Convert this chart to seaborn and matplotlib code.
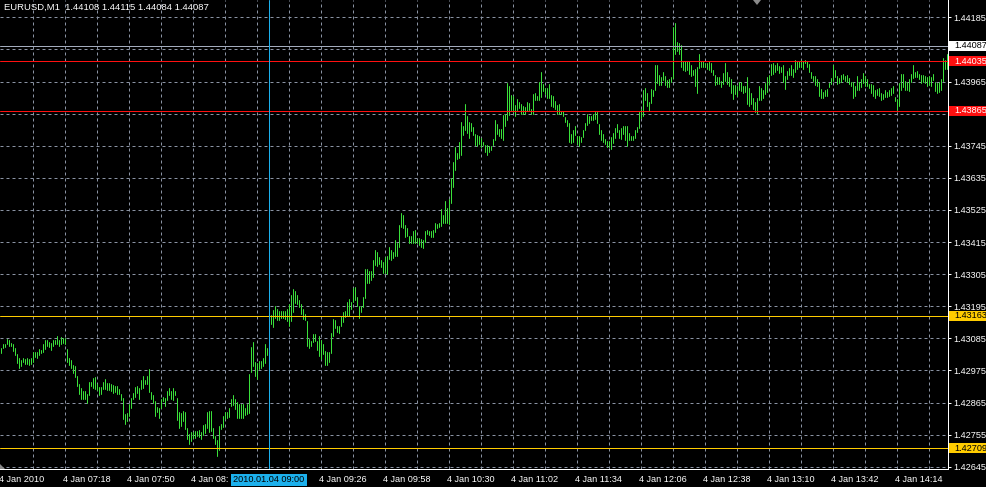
import numpy as np
import pandas as pd
import matplotlib
matplotlib.use("Agg")
import matplotlib.pyplot as plt
import matplotlib.transforms as mtransforms
from matplotlib.patches import Rectangle, Polygon
import seaborn as sns

# ---------------- data ----------------
TITLE = "EURUSD,M1  1.44108 1.44115 1.44084 1.44087"
BASE = 1.42          # prices below are stored as points (1e-5) above this base
FIRST_TIME = "06:46"  # time of the first (left-most) one-minute bar

HIGH_PTS = [
    1053, 1064, 1067, 1083, 1078, 1069, 1064, 1051, 1032, 1016,
    1010, 1016, 1014, 1016, 1014, 1016, 1037, 1037, 1037, 1048,
    1046, 1064, 1078, 1080, 1074, 1069, 1078, 1080, 1094, 1080,
    1090, 1087, 1085, 1048, 1019, 1010, 994, 991, 957, 930,
    914, 905, 905, 893, 936, 936, 950, 952, 927, 918,
    918, 934, 946, 932, 932, 927, 925, 923, 921, 911,
    893, 882, 825, 829, 861, 879, 898, 918, 921, 916,
    941, 955, 943, 955, 980, 900, 891, 870, 850, 847,
    877, 884, 882, 905, 916, 905, 916, 905, 879, 831,
    829, 836, 834, 779, 758, 765, 765, 767, 767, 770,
    763, 788, 790, 834, 836, 836, 779, 749, 738, 786,
    793, 820, 831, 834, 847, 877, 889, 877, 868, 861,
    859, 861, 847, 861, 962,
    1055, 1071, 1003, 1000, 1008, 1008, 1017, 1065, 1053, 1140,
    1165, 1181, 1197, 1185, 1178, 1178, 1178, 1178, 1185, 1201,
    1233, 1254, 1247, 1235, 1217, 1201, 1187, 1169, 1144, 1083,
    1076, 1099, 1099, 1076, 1094, 1078, 1065, 1042, 1039, 1037,
    1103, 1151, 1149, 1128, 1126, 1162, 1174, 1178, 1208, 1219,
    1208, 1258, 1260, 1226, 1197, 1197, 1226, 1324, 1322, 1317,
    1315, 1354, 1386, 1381, 1363, 1354, 1345, 1365, 1367, 1397,
    1388, 1381, 1422, 1411, 1472, 1513, 1509, 1474, 1463, 1436,
    1436, 1452, 1456, 1429, 1429, 1424, 1422, 1452, 1456, 1452,
    1452, 1456, 1481, 1477, 1479, 1527, 1506, 1554, 1531, 1561,
    1634, 1688, 1739, 1720, 1757, 1827, 1811, 1889, 1846, 1827,
    1823, 1809, 1784, 1780, 1777, 1770, 1759, 1748, 1748, 1743,
    1745, 1768, 1834, 1818, 1802, 1802, 1850, 1853, 1960, 1951,
    1919, 1915, 1885, 1905, 1896, 1887, 1880, 1878, 1896, 1892,
    1871, 1921, 1926, 1917, 1965, 1999, 1958, 1942, 1942, 1958,
    1919, 1915, 1898, 1885, 1887, 1864, 1864, 1843, 1832, 1823,
    1786, 1800, 1814, 1777, 1777, 1775, 1798, 1823, 1855, 1846,
    1848, 1853, 1862, 1860, 1818, 1798, 1784, 1768, 1761, 1761,
    1775, 1789, 1805, 1818, 1800, 1805, 1814, 1814, 1814, 1789,
    1777, 1777, 1798, 1809, 1860, 1871, 1937, 1942, 1926, 1894,
    1940, 1937, 2022, 2022, 1986, 1981, 1997, 1983, 1970, 1972,
    1981, 2151, 2167, 2100, 2096, 2089, 2036, 2036, 2036, 2036,
    2020, 2006, 2009, 2013, 2059, 2036, 2036, 2029, 2029, 2036,
    2029, 2006, 1986, 1979, 1981,
    1967, 1995, 2027, 1999, 1981, 1972, 1954, 1954, 1951, 1965,
    1965, 1949, 1949, 1979, 1944, 1926, 1910, 1896, 1908, 1949,
    1942, 1937, 1960, 1979, 1988, 2025, 2027, 2020, 2027, 2018,
    2013, 2020, 1983, 2002, 2011, 2022, 2009, 2038, 2036, 2036,
    2038, 2036, 2038, 2034, 2025, 1997, 1983, 1983, 1972, 1963,
    1940, 1928, 1937, 1940, 1960, 1976, 2020, 2004, 1983, 1976,
    1986, 1992, 1983, 1986, 1976, 1965, 1963, 1949, 1983, 1965,
    1974, 1995, 1983, 1972, 1956, 1956, 1954, 1937, 1940, 1942,
    1926, 1921, 1937, 1928, 1937, 1942, 1949, 1912, 1905, 1960,
    1990, 1990, 1967, 1963, 1972, 1990, 2022, 1999, 2002, 1990,
    1986, 1986, 1983, 1981, 1983, 1981, 1990, 1963, 1960, 1965,
    1972, 2045, 2038, 2059,
]

LOW_PTS = [
    1035, 1053, 1055, 1064, 1060, 1058, 1042, 1028, 1000, 982,
    991, 1003, 996, 996, 994, 998, 1005, 1021, 1016, 1028,
    1035, 1039, 1048, 1060, 1055, 1046, 1058, 1064, 1064, 1060,
    1067, 1069, 1067, 1005, 994, 982, 966, 952, 921, 895,
    877, 877, 877, 863, 889, 923, 916, 911, 909, 889,
    893, 911, 911, 907, 907, 905, 898, 902, 893, 893,
    875, 809, 790, 802, 820, 845, 877, 884, 898, 877,
    911, 914, 927, 927, 902, 877, 863, 820, 834, 811,
    845, 870, 854, 873, 891, 877, 873, 889, 804, 779,
    786, 802, 774, 740, 724, 733, 745, 745, 751, 747,
    740, 754, 761, 779, 763, 767, 742, 724, 683, 701,
    774, 781, 809, 811, 815, 854, 857, 843, 811, 811,
    811, 813, 822, 827, 830,
    969, 989, 957, 946, 980, 983, 989, 1001, 1028, 1040,
    1133, 1124, 1153, 1147, 1147, 1153, 1153, 1151, 1144, 1128,
    1144, 1174, 1206, 1201, 1192, 1167, 1151, 1149, 1058, 1053,
    1060, 1071, 1076, 1046, 1024, 1014, 1030, 994, 994, 1005,
    1035, 1092, 1121, 1105, 1103, 1126, 1140, 1158, 1162, 1162,
    1185, 1210, 1217, 1194, 1156, 1174, 1192, 1224, 1274, 1274,
    1285, 1295, 1336, 1333, 1340, 1329, 1310, 1310, 1304, 1356,
    1354, 1360, 1367, 1367, 1399, 1465, 1463, 1433, 1436, 1413,
    1413, 1413, 1413, 1413, 1406, 1399, 1395, 1415, 1442, 1440,
    1433, 1433, 1449, 1463, 1468, 1470, 1481, 1481, 1479, 1477,
    1547, 1604, 1661, 1698, 1704, 1714, 1782, 1800, 1789, 1770,
    1795, 1782, 1748, 1745, 1752, 1739, 1748, 1725, 1714, 1725,
    1731, 1747, 1763, 1786, 1777, 1772, 1763, 1814, 1834, 1850,
    1869, 1862, 1846, 1866, 1873, 1855, 1855, 1855, 1864, 1866,
    1853, 1853, 1903, 1903, 1903, 1912, 1931, 1921, 1908, 1910,
    1882, 1876, 1871, 1855, 1855, 1853, 1846, 1825, 1814, 1756,
    1754, 1759, 1782, 1752, 1745, 1756, 1775, 1798, 1816, 1823,
    1832, 1834, 1837, 1823, 1784, 1766, 1756, 1750, 1740, 1740,
    1734, 1754, 1772, 1791, 1770, 1768, 1786, 1763, 1745, 1763,
    1763, 1763, 1772, 1793, 1805, 1841, 1848, 1903, 1882, 1864,
    1892, 1915, 1937, 1960, 1954, 1954, 1970, 1954, 1947, 1947,
    1963, 1976, 2059, 2070, 2059, 2013, 2006, 2002, 2004, 1990,
    1983, 1986, 1949, 1926, 2011, 2015, 2015, 2013, 2009, 2006,
    1999, 1988, 1954, 1956, 1958,
    1947, 1956, 1967, 1958, 1949, 1926, 1905, 1921, 1915, 1935,
    1933, 1926, 1928, 1887, 1880, 1887, 1871, 1862, 1857, 1903,
    1903, 1908, 1921, 1928, 1956, 1986, 1992, 1999, 2004, 1995,
    1999, 1963, 1940, 1974, 1986, 1986, 1979, 1997, 2009, 2013,
    2013, 2009, 2027, 2013, 1997, 1976, 1967, 1954, 1949, 1917,
    1910, 1910, 1915, 1917, 1947, 1956, 1967, 1981, 1956, 1960,
    1965, 1972, 1967, 1963, 1958, 1949, 1910, 1915, 1937, 1935,
    1947, 1960, 1949, 1951, 1944, 1926, 1915, 1910, 1919, 1915,
    1903, 1905, 1912, 1912, 1915, 1919, 1924, 1898, 1869, 1882,
    1937, 1947, 1935, 1937, 1931, 1965, 1976, 1979, 1979, 1974,
    1960, 1965, 1960, 1951, 1954, 1949, 1970, 1933, 1926, 1928,
    1937, 1967, 2009, 2009,
]

# time labels as visible in the reference (the 08:22 label is cut by the
# date box, the 08:54 one is fully hidden under it)
TIME_LABELS = ["4 Jan 2010", "4 Jan 07:18", "4 Jan 07:50", "4 Jan 08:",
               "", "4 Jan 09:26", "4 Jan 09:58", "4 Jan 10:30",
               "4 Jan 11:02", "4 Jan 11:34", "4 Jan 12:06", "4 Jan 12:38",
               "4 Jan 13:10", "4 Jan 13:42", "4 Jan 14:14"]
LABEL_EVERY = 32      # bars between time labels
GRID_EVERY = 16       # bars between vertical grid lines

PRICE_TICKS = [1.42645, 1.42755, 1.42865, 1.42975, 1.43085, 1.43195, 1.43305,
               1.43415, 1.43525, 1.43635, 1.43745, 1.43855, 1.43965, 1.44075,
               1.44185]
# tick labels that the reference hides behind the level boxes
HIDDEN_PRICE_LABELS = [1.43855, 1.44075]

LEVEL_PRICES = [1.44087, 1.44035, 1.43865, 1.43163, 1.42709]
LEVEL_LINE_COLORS = ["#a3acbd", "#ff1010", "#ff1010", "#ffcc00", "#ffcc00"]
LEVEL_BOX_COLORS = ["#ffffff", "#ff1010", "#ff1010", "#ffcc00", "#ffcc00"]
LEVEL_TEXT_COLORS = ["black", "white", "white", "black", "black"]

CROSS_TIME = "09:00"
CROSS_LABEL = "2010.01.04 09:00"

# ---------------- style ----------------
W, H, DPI = 986, 487, 100
BAR_COLOR = "#3ae03a"
GRID_COLOR = "#8a93a3"
CROSS_COLOR = "#1cb0ec"
PX = 72.0 / DPI   # one pixel in points

sns.set_style("dark", {"axes.facecolor": "black", "figure.facecolor": "black"})
plt.rcParams["font.family"] = ["Liberation Sans", "DejaVu Sans"]

fig = plt.figure(figsize=(W / DPI, H / DPI), dpi=DPI, facecolor="black")
AX_R, AX_B = 948, 469   # pixel right edge and bottom edge of the plot area
ax = fig.add_axes([0, (H - AX_B) / H, AX_R / W, AX_B / H])
ax.set_facecolor("black")

n = len(HIGH_PTS)
bars = np.arange(n)
high = BASE + np.array(HIGH_PTS) / 1e5
low = BASE + np.array(LOW_PTS) / 1e5
df = pd.DataFrame({"bar": np.repeat(bars, 2),
                   "price": np.column_stack([low, high]).ravel()})

sns.lineplot(data=df, x="bar", y="price", units="bar", estimator=None,
             color=BAR_COLOR, linewidth=PX, ax=ax, legend=False, zorder=3)

# scales
ax.set_xlim(-0.75, n - 0.75)
ppx = 0.0011 / 32.1      # price per pixel
y_top = 1.44185 + 17.3 * ppx
ax.set_ylim(y_top - AX_B * ppx, y_top)
ax.set_xlabel("")
ax.set_ylabel("")

# grid
ax.set_axisbelow(True)
ax.set_yticks(PRICE_TICKS)
ax.set_yticklabels(["" if any(abs(p - h) < 1e-9 for h in HIDDEN_PRICE_LABELS)
                    else f"{p:.5f}" for p in PRICE_TICKS])
ax.xaxis.remove_overlapping_locs = False
ax.set_xticks(list(range(0, LABEL_EVERY * len(TIME_LABELS), LABEL_EVERY)))
ax.set_xticklabels(TIME_LABELS, ha="left")
ax.set_xticks(list(range(GRID_EVERY, n, GRID_EVERY)), minor=True)
dash = (0, (3, 3))
ax.grid(axis="y", which="major", color=GRID_COLOR, linewidth=PX, linestyle=dash)
ax.grid(axis="x", which="minor", color=GRID_COLOR, linewidth=PX, linestyle=dash)
ax.grid(axis="x", which="major", visible=False)

ax.tick_params(axis="y", which="major", left=False, right=True, labelleft=False,
               labelright=True, length=3 * PX, width=PX, color="white",
               labelcolor="white", labelsize=6.6, pad=2.5 * PX)
ax.tick_params(axis="x", which="major", length=3 * PX, width=PX, color="white",
               labelcolor="white", labelsize=6.6, pad=3 * PX)
ax.tick_params(axis="x", which="minor", length=0)
shift = mtransforms.ScaledTranslation(-2 / DPI, 0, fig.dpi_scale_trans)
for lab in ax.get_xticklabels():
    lab.set_transform(lab.get_transform() + shift)

for side in ("top", "left"):
    ax.spines[side].set_visible(False)
for side in ("right", "bottom"):
    ax.spines[side].set_color("white")
    ax.spines[side].set_linewidth(PX)

# horizontal level lines with coloured price boxes
trans = mtransforms.blended_transform_factory(ax.transAxes, ax.transData)
half = 5 * ppx
for p, lc, bc, tc in zip(LEVEL_PRICES, LEVEL_LINE_COLORS, LEVEL_BOX_COLORS,
                         LEVEL_TEXT_COLORS):
    ax.axhline(p, color=lc, linewidth=PX, zorder=4)
    ax.add_patch(Rectangle((949 / AX_R, p - half), (W - 949) / AX_R, 2 * half,
                           transform=trans, facecolor=bc, edgecolor="none",
                           clip_on=False, zorder=6))
    ax.text(954 / AX_R, p, f"{p:.5f}", transform=trans, ha="left", va="center",
            color=tc, fontsize=6.6, clip_on=False, zorder=7)

# crosshair at 09:00
h0, m0 = map(int, FIRST_TIME.split(":"))
h1, m1 = map(int, CROSS_TIME.split(":"))
cross_bar = (h1 * 60 + m1) - (h0 * 60 + m0)
ax.axvline(cross_bar, color=CROSS_COLOR, linewidth=PX, zorder=5)


def fx(px):
    return px / W


def fy(py):
    return 1 - py / H


fig.add_artist(Rectangle((fx(231), fy(485.5)), fx(307) - fx(231), fy(473.5) - fy(485.5),
                         transform=fig.transFigure, facecolor=CROSS_COLOR,
                         edgecolor="none", zorder=5))
fig.text(fx(269), fy(479.5), CROSS_LABEL, ha="center", va="center",
         color="black", fontsize=6.6, zorder=6)

# title
fig.text(fx(4), fy(7.5), TITLE, ha="left", va="center", color="white",
         fontsize=6.8)

# small grey markers (chart shift / scroll indicators)
fig.add_artist(Polygon([(fx(753), fy(0)), (fx(761), fy(0)), (fx(757), fy(5))],
                       closed=True, transform=fig.transFigure,
                       facecolor="#8a8a8a", edgecolor="none"))
fig.add_artist(Polygon([(fx(0), fy(464)), (fx(0), fy(469)), (fx(5), fy(469))],
                       closed=True, transform=fig.transFigure,
                       facecolor="#8a8a8a", edgecolor="none"))

fig.savefig("out.png", dpi=DPI, facecolor="black")
